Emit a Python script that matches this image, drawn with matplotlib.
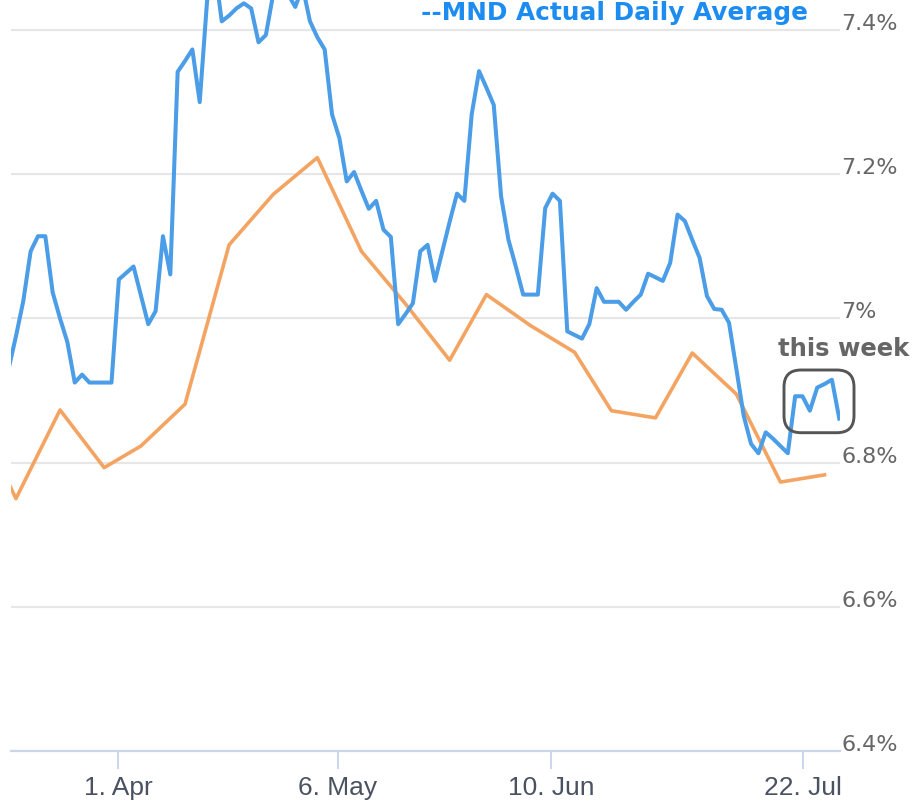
import matplotlib.pyplot as plt
from matplotlib.patches import FancyBboxPatch

# MND daily index, one value per trading day (ordinal axis)
mnd_daily = [
    6.93, 6.975, 7.024, 7.093, 7.114, 7.114, 7.036, 7.00, 6.967, 6.911,
    6.922, 6.911, 6.911, 6.911, 6.911, 7.054, 7.063, 7.072, 7.032, 6.992,
    7.01, 7.114, 7.061, 7.342, 7.357, 7.373, 7.30, 7.44, 7.49, 7.412,
    7.42, 7.43, 7.437, 7.43, 7.383, 7.393, 7.45, 7.48, 7.45, 7.432,
    7.46, 7.412, 7.39, 7.373, 7.283, 7.25, 7.19, 7.203, 7.177, 7.152,
    7.163, 7.123, 7.113, 6.992, 7.006, 7.021, 7.093, 7.102, 7.052, 7.093,
    7.134, 7.173, 7.163, 7.283, 7.343, 7.32, 7.296, 7.169, 7.109, 7.072,
    7.033, 7.033, 7.033, 7.153, 7.173, 7.163, 6.982, 6.977, 6.972, 6.992,
    7.042, 7.023, 7.023, 7.023, 7.012, 7.023, 7.033, 7.062, 7.057, 7.052,
    7.077, 7.144, 7.135, 7.109, 7.084, 7.031, 7.013, 7.012, 6.994, 6.93,
    6.865, 6.826, 6.813, 6.842, 6.833, 6.823, 6.813, 6.892, 6.892, 6.872,
    6.904, 6.909, 6.915, 6.861,
]

# weekly survey rate, placed on the same ordinal positions
weekly_pos = [-5, 1, 7, 13, 18, 24, 30, 36, 42, 48, 54, 60, 65, 71, 77, 82, 88, 93, 99, 105, 111]
weekly_rate = [6.88, 6.75, 6.873, 6.793, 6.823, 6.881, 7.102, 7.172, 7.223, 7.093,
               7.02, 6.942, 7.033, 6.99, 6.953, 6.872, 6.862, 6.952, 6.895, 6.773, 6.783]

xtick_pos = [14.9, 44.8, 73.8, 108.1]
xtick_labels = ['1. Apr', '6. May', '10. Jun', '22. Jul']
ytick_vals = [6.4, 6.6, 6.8, 7.0, 7.2, 7.4]
ytick_labels = ['6.4%', '6.6%', '6.8%', '7%', '7.2%', '7.4%']

blue = '#4a9de6'
orange = '#f4a462'

fig = plt.figure(figsize=(9.14, 8.06), dpi=100)
ax = fig.add_axes([11/914, 1 - 751/806, 829/914, 751/806])

ax.plot(weekly_pos, weekly_rate, color=orange, lw=2.6, solid_joinstyle='round', zorder=2)
ax.plot(range(len(mnd_daily)), mnd_daily, color=blue, lw=2.9, solid_joinstyle='round', zorder=3)

ax.set_xlim(0.33, 113.1)
ax.set_ylim(6.4, 7.4416)

ax.set_yticks(ytick_vals)
ax.set_yticklabels(ytick_labels)
ax.yaxis.tick_right()
ax.tick_params(axis='y', length=0, pad=1, labelsize=16, labelcolor='#666666')
for lbl in ax.get_yticklabels():
    lbl.set_verticalalignment('baseline')
ax.grid(axis='y', color='#e6e6e6', lw=1.5)
ax.set_axisbelow(True)

ax.set_xticks(xtick_pos)
ax.set_xticklabels(xtick_labels, family=['Liberation Sans Narrow', 'Liberation Sans'])
ax.tick_params(axis='x', length=13, width=1.4, color='#ccd6eb', pad=5,
               labelsize=19, labelcolor='#4a5262')

for s in ['top', 'left', 'right']:
    ax.spines[s].set_visible(False)
ax.spines['bottom'].set_color('#ccd6eb')
ax.spines['bottom'].set_linewidth(1.6)

fig.text(421/914, 1 - 20/806, '--MND Actual Daily Average', color='#1d8cf0',
         fontsize=17.8, fontweight='bold', ha='left', va='baseline')
fig.text(778/914, 1 - 356/806, 'this week', color='#666666',
         fontsize=17.5, fontweight='bold', ha='left', va='baseline')

box = FancyBboxPatch((7.84, 3.733), 0.70, 0.627, boxstyle='round,pad=0,rounding_size=0.17',
                     transform=fig.dpi_scale_trans, fill=False, ec='#555555', lw=2.1)
fig.add_artist(box)

fig.savefig('out.png', dpi=100)
